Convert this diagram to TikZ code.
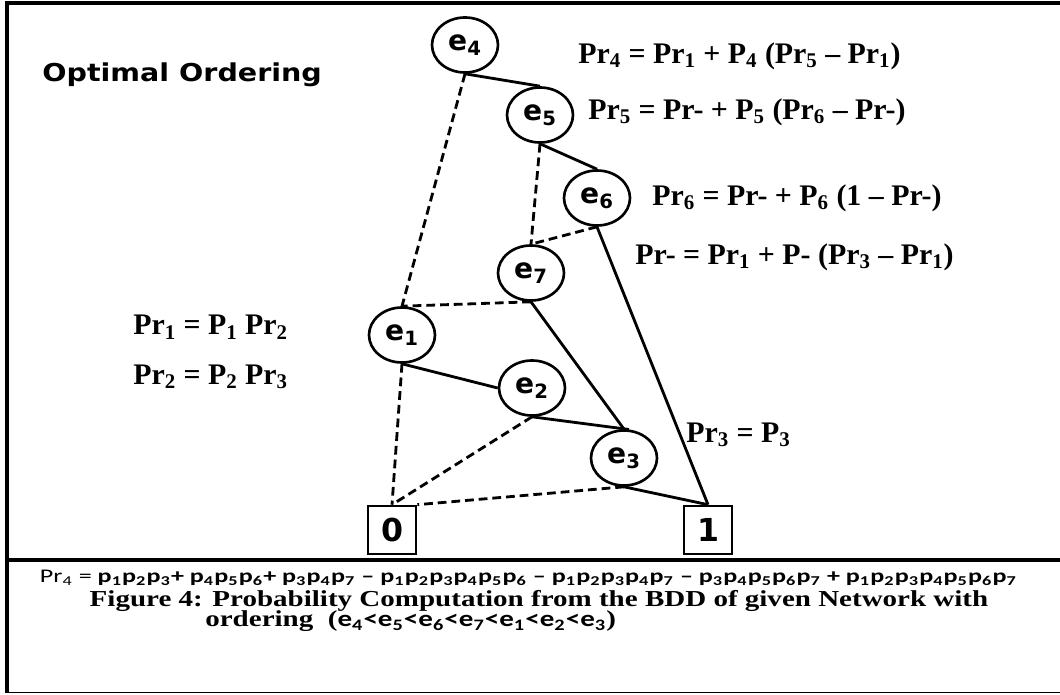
\documentclass[tikz,border=0pt]{standalone}
\usepackage{graphicx}
\usepackage{fontspec}
\setmainfont{Liberation Serif}
\newfontfamily\labelsans{DejaVu Sans}
\newfontfamily\capsans{Carlito}
\usetikzlibrary{shapes.geometric}

\tikzset{
    bddnode/.style={ellipse, draw, line width=1.5pt, minimum width=1.32cm, minimum height=1.1cm, inner sep=0pt, font=\labelsans\bfseries\fontsize{16}{18}\selectfont},
    leaf/.style={rectangle, draw, line width=1.5pt, minimum size=0.96cm, inner sep=0pt, font=\labelsans\bfseries\fontsize{18}{20}\selectfont},
    hi/.style={line width=1.6pt},
    lo/.style={line width=1.6pt, dash pattern=on 5pt off 2.8pt},
    eqn/.style={anchor=west, inner sep=0pt, font=\bfseries\fontsize{17}{20}\selectfont}
}

\begin{document}
\begin{tikzpicture}
    \useasboundingbox (0,0) rectangle (21.2,13.88);

    % Cadre
    \draw[line width=2.5pt] (0.1,13.82) -- (21.2,13.82);
    \draw[line width=2pt] (0.14,13.86) -- (0.14,0.03);
    \draw[line width=2pt] (0.1,2.68) -- (21.2,2.68);
    \draw[line width=1pt] (0.14,0.03) -- (21.2,0.03);

    % Titre
    \node[anchor=west, inner sep=0pt, font=\labelsans\bfseries\fontsize{14}{17}\selectfont] (title) at (0.84,12.38) {\scalebox{1.16}[1]{Optimal Ordering}};

    % Noeuds du BDD
    \node[bddnode] (e4) at (9.30,12.98) {e\textsubscript{4}};
    \node[bddnode] (e5) at (10.80,11.58) {e\textsubscript{5}};
    \node[bddnode] (e6) at (11.94,9.92) {e\textsubscript{6}};
    \node[bddnode] (e7) at (10.62,8.42) {e\textsubscript{7}};
    \node[bddnode] (e1) at (8.04,7.18) {e\textsubscript{1}};
    \node[bddnode] (e2) at (10.64,6.12) {e\textsubscript{2}};
    \node[bddnode] (e3) at (12.48,4.72) {e\textsubscript{3}};
    \node[leaf] (leaf0) at (7.84,3.28) {0};
    \node[leaf] (leaf1) at (14.16,3.28) {1};

    % Arcs 1 (traits pleins)
    \draw[hi] (e4.south) -- (e5.north);
    \draw[hi] (e5.south) -- (e6.north);
    \draw[hi] (e6.south) -- (leaf1.north);
    \draw[hi] (e7.south) -- (e3.north);
    \draw[hi] (e1.south) -- (e2.west);
    \draw[hi] (e2.south) -- (e3.80);
    \draw[hi] (e3.south) -- (leaf1.north);

    % Arcs 0 (pointilles)
    \draw[lo] (e4.south) -- (e1.north);
    \draw[lo] (e5.south) -- (e7.north);
    \draw[lo] (e6.south) -- (e7.north);
    \draw[lo] (e7.south) -- (e1.north);
    \draw[lo] (e1.south) -- (leaf0.north);
    \draw[lo] (e2.south) -- (leaf0.north);
    \draw[lo] (e3.south) -- (leaf0.north east);

    % Equations
    \node[eqn] (pr4) at (11.56,12.76) {Pr\textsubscript{4} = Pr\textsubscript{1} + P\textsubscript{4} (Pr\textsubscript{5} – Pr\textsubscript{1})};
    \node[eqn] (pr5) at (11.76,11.64) {Pr\textsubscript{5} = Pr- + P\textsubscript{5} (Pr\textsubscript{6} – Pr-)};
    \node[eqn] (pr6) at (13.04,9.92) {Pr\textsubscript{6} = Pr- + P\textsubscript{6} (1 – Pr-)};
    \node[eqn] (prm) at (12.70,8.74) {Pr- = Pr\textsubscript{1} + P- (Pr\textsubscript{3} – Pr\textsubscript{1})};
    \node[eqn] (pr1) at (2.66,7.34) {Pr\textsubscript{1} = P\textsubscript{1} Pr\textsubscript{2}};
    \node[eqn] (pr2) at (2.66,6.34) {Pr\textsubscript{2} = P\textsubscript{2} Pr\textsubscript{3}};
    \node[eqn] (pr3) at (13.72,5.18) {Pr\textsubscript{3} = P\textsubscript{3}};

    % Legende
    \node[inner sep=0pt, font=\capsans\fontsize{11}{13}\selectfont] (total) at (10.57,2.32) {\scalebox{1.35}[1]{Pr\textsubscript{4} = \textbf{p\textsubscript{1}p\textsubscript{2}p\textsubscript{3}+ p\textsubscript{4}p\textsubscript{5}p\textsubscript{6}+ p\textsubscript{3}p\textsubscript{4}p\textsubscript{7} – p\textsubscript{1}p\textsubscript{2}p\textsubscript{3}p\textsubscript{4}p\textsubscript{5}p\textsubscript{6} – p\textsubscript{1}p\textsubscript{2}p\textsubscript{3}p\textsubscript{4}p\textsubscript{7} – p\textsubscript{3}p\textsubscript{4}p\textsubscript{5}p\textsubscript{6}p\textsubscript{7} + p\textsubscript{1}p\textsubscript{2}p\textsubscript{3}p\textsubscript{4}p\textsubscript{5}p\textsubscript{6}p\textsubscript{7}}}};
    \node[inner sep=0pt, font=\bfseries\fontsize{13}{15}\selectfont] (cap1) at (10.78,1.87) {\scalebox{1.27}[1]{Figure 4: Probability Computation from the BDD of given Network with}};
    \node[anchor=west, inner sep=0pt, font=\bfseries\fontsize{13}{15}\selectfont] (cap2) at (4.10,1.45) {\scalebox{1.27}[1]{ordering \ ({\capsans e\textsubscript{4}<e\textsubscript{5}<e\textsubscript{6}<e\textsubscript{7}<e\textsubscript{1}<e\textsubscript{2}<e\textsubscript{3}})}};
\end{tikzpicture}
\end{document}
